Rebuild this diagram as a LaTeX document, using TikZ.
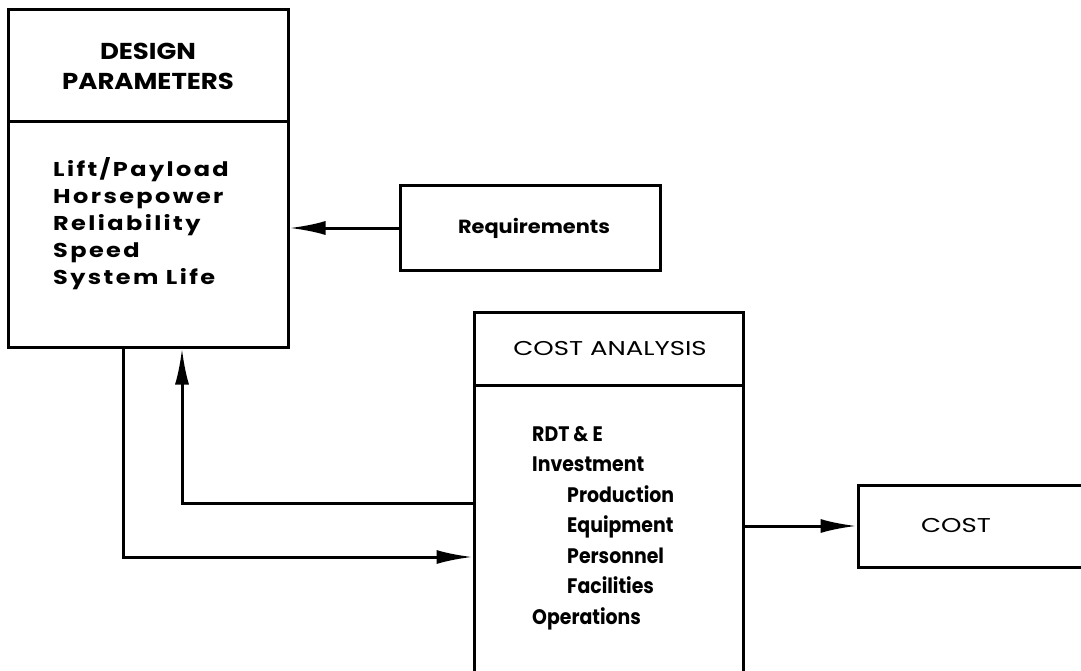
\documentclass[tikz,border=0pt]{standalone}
\usepackage{fontspec}
\setmainfont{Poppins}
\newfontfamily\fA{Poppins}[FakeStretch=1.2, LetterSpace=12]
\newfontfamily\fB{Poppins}[FakeStretch=0.9]
\newfontfamily\fC{Poppins}[FakeStretch=1.3]
\newfontfamily\fD{Poppins}[FakeStretch=1.13]
\newfontfamily\fE{Poppins}[FakeStretch=1.1]
\usetikzlibrary{arrows.meta}
\begin{document}
\begin{tikzpicture}[x=1pt,y=-1pt,
  box/.style={draw, line width=3pt, inner sep=0pt},
  arr/.style={-{Latex[length=36pt,width=14pt]}, line width=3pt},
  headtxt/.style={font=\fD\bfseries\fontsize{23}{30}\selectfont, align=center, inner sep=0pt},
  listtxt/.style={font=\fA\bfseries\fontsize{20}{27}\selectfont, align=left, inner sep=0pt, anchor=north west},
  clisttxt/.style={font=\fB\bfseries\fontsize{21}{30.5}\selectfont, align=left, inner sep=0pt, anchor=north west},
  reqtxt/.style={font=\fE\bfseries\fontsize{19}{24}\selectfont, inner sep=0pt},
  lbl/.style={font=\fC\fontsize{20}{24}\selectfont, inner sep=0pt}]
\useasboundingbox (0,0) rectangle (1081,671);
\clip (0,0) rectangle (1081,671);
% Design parameters
\node[box, minimum width=280, minimum height=112] (dhead) at (148,66) {};
\node[box, minimum width=280, minimum height=225] (dbody) at (148,234.5) {};
\node[headtxt] (dheadt) at (dhead.center) {DESIGN\\PARAMETERS};
\node[listtxt] (dlist) at (53,157) {Lift/Payload\\Horsepower\\Reliability\\Speed\\System Life};
% Requirements
\node[box, minimum width=260, minimum height=84] (req) at (530,228) {};
\node[reqtxt] (reqt) at (534,228) {Requirements};
% Cost analysis
\node[box, minimum width=269, minimum height=73] (chead) at (608.5,348.5) {};
\node[box, minimum width=269, minimum height=335] (cbody) at (608.5,552.5) {};
\node[lbl] (cheadt) at (610,349) {COST ANALYSIS};
\node[clisttxt] (clist) at (532,426) {RDT \& E\\Investment\\\hspace*{35pt}Production\\\hspace*{35pt}Equipment\\\hspace*{35pt}Personnel\\\hspace*{35pt}Facilities\\Operations};
% Cost
\node[box, minimum width=242, minimum height=82] (cost) at (979,526) {};
\node[lbl] (costt) at (956,526) {COST};
% connectors
\coordinate (xa) at (123,0);
\coordinate (xb) at (182,0);
\coordinate (ya) at (0,557);
\coordinate (yb) at (0,503);
\draw[arr] (req.west) -- (req.west -| dbody.east);
\draw[arr] (dbody.south -| xa) |- (cbody.west |- ya);
\draw[arr] (cbody.west |- yb) -| (dbody.south -| xb);
\draw[arr] (cbody.east |- cost.west) -- (cost.west);
\end{tikzpicture}
\end{document}
